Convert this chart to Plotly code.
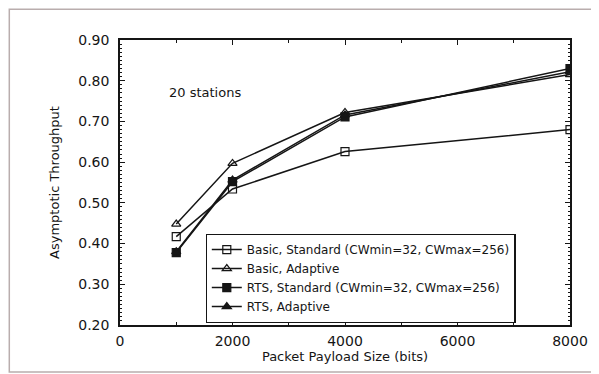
import plotly.graph_objects as go

payload_bits = [1000, 2000, 4000, 8000]
basic_standard = [0.417, 0.534, 0.626, 0.680]
basic_adaptive = [0.448, 0.597, 0.722, 0.815]
rts_standard = [0.378, 0.552, 0.711, 0.830]
rts_adaptive = [0.380, 0.556, 0.716, 0.822]

series_names = [
    "Basic, Standard (CWmin=32, CWmax=256)",
    "Basic, Adaptive",
    "RTS, Standard (CWmin=32, CWmax=256)",
    "RTS, Adaptive",
]
series_values = [basic_standard, basic_adaptive, rts_standard, rts_adaptive]
series_symbols = ["square-open", "triangle-up-open", "square", "triangle-up"]

y_tick_vals = [0.2, 0.3, 0.4, 0.5, 0.6, 0.7, 0.8, 0.9]
x_tick_vals = [0, 2000, 4000, 6000, 8000]

FONT = "DejaVu Sans, Verdana, sans-serif"
INK = "#151515"

fig = go.Figure()
for name, vals, sym in zip(series_names, series_values, series_symbols):
    fig.add_trace(go.Scatter(
        x=payload_bits, y=vals, name=name, mode="lines+markers",
        line=dict(color=INK, width=1.5),
        marker=dict(symbol=sym, size=8, color=INK,
                    line=dict(color=INK, width=1.2)),
    ))

fig.add_annotation(x=840, y=0.77, xref="x", yref="y", text="20 stations",
                   showarrow=False, xanchor="left", yanchor="middle",
                   font=dict(family=FONT, size=13, color=INK))

# outer grey frame: left, top and bottom edges only (right edge is off-page)
fig.add_shape(type="path", xref="paper", yref="paper",
              path="M 1.2,1.108 L -0.246,1.108 L -0.246,-0.165 L 1.2,-0.165",
              line=dict(color="#b9adad", width=1.5), layer="below")

# page body has an 8px margin, so margins are reduced by 8 on left/top;
# plot area sits at page px x 120..570, y 40..325
fig.update_layout(
    width=599, height=374,
    margin=dict(l=112, r=37, t=32, b=57),
    paper_bgcolor="white", plot_bgcolor="white",
    font=dict(family=FONT, size=13, color=INK),
    showlegend=True,
    legend=dict(x=0.19, y=0.32, xanchor="left", yanchor="top",
                bgcolor="white", bordercolor=INK, borderwidth=1.3,
                font=dict(family=FONT, size=12, color=INK),
                itemwidth=30, tracegroupgap=0,
                traceorder="normal"),
    xaxis=dict(range=[0, 8000], tickvals=x_tick_vals,
               ticks="inside", ticklen=5, tickcolor=INK,
               showline=True, linecolor=INK, linewidth=1.5, mirror="ticks",
               showgrid=False, zeroline=False, automargin=False,
               minor=dict(ticks="inside", dtick=1000, ticklen=3, tickcolor=INK),
               tickfont=dict(size=14), ticklabelstandoff=2,
               title=dict(text="Packet Payload Size (bits)", font=dict(size=13), standoff=4)),
    yaxis=dict(range=[0.2, 0.9], tickvals=y_tick_vals, tickformat=".2f",
               ticks="inside", ticklen=5, tickcolor=INK,
               showline=True, linecolor=INK, linewidth=1.5, mirror="ticks",
               showgrid=False, zeroline=False, automargin=False,
               minor=dict(ticks="inside", dtick=0.01, ticklen=2, tickcolor=INK),
               tickfont=dict(size=14), ticklabelstandoff=6,
               title=dict(text="Asymptotic Throughput", font=dict(size=13), standoff=16)),
)

fig.write_html("out.html")
